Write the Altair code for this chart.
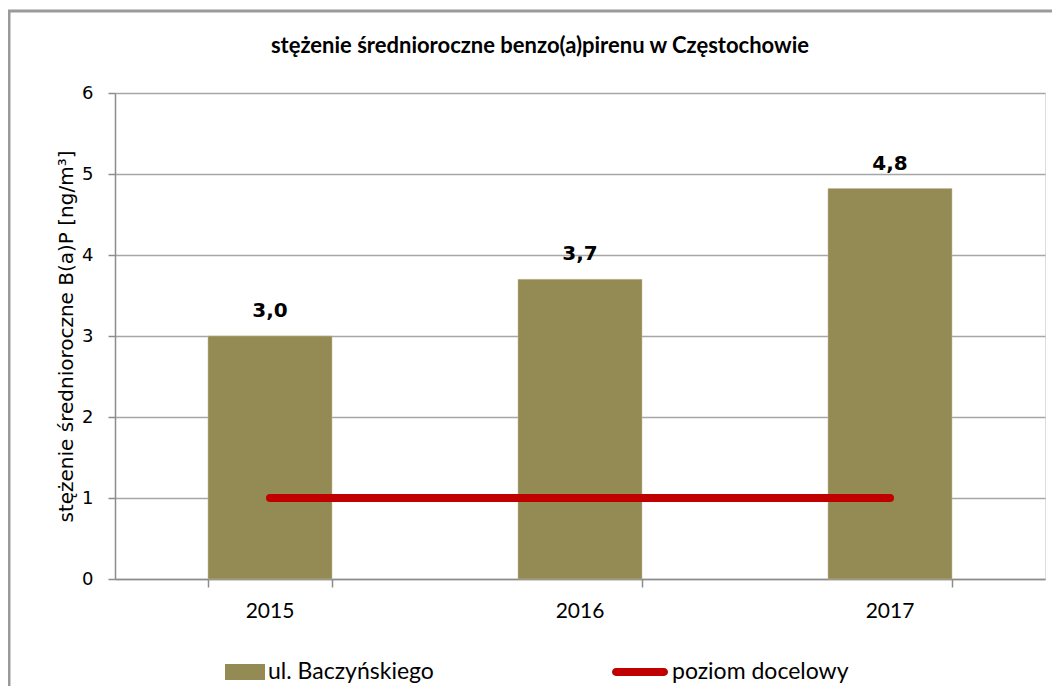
import altair as alt
import pandas as pd

# ---- data ----
years = ["2015", "2016", "2017"]
values = [3.0, 3.7, 4.82]
target = [1, 1, 1]
bar_series = "ul. Baczyńskiego"
line_series = "poziom docelowy"
y_ticks = [0, 1, 2, 3, 4, 5, 6]

df = pd.DataFrame({
    "year": years,
    "value": values,
    "target": target,
    "bar": [bar_series] * len(years),
    "line": [line_series] * len(years),
})

OLIVE = "#948A54"
RED = "#C00000"
GRID = "#A6A6A6"
AXIS = "#8C8C8C"
Y_TITLE = "stężenie średnioroczne B(a)P [ng/m³]"

x_enc = alt.X(
    "year:N", title=None, sort=years,
    scale=alt.Scale(paddingInner=0.6, paddingOuter=0.3),
    axis=alt.Axis(labelAngle=0, bandPosition=1, tickExtra=True, tickSize=8,
                  labelPadding=13, labelFont="Lato", labelFontSize=21,
                  labelColor="#000", domainColor=AXIS, tickColor=AXIS,
                  domainWidth=1.5, tickWidth=1.5, grid=False),
)

y_axis = alt.Axis(values=y_ticks, format="d", grid=True, gridColor=GRID,
                  gridWidth=1.5, domainColor=AXIS, tickColor=AXIS,
                  domainWidth=1.5, tickWidth=1.5,
                  tickSize=7, labelPadding=15, labelFont="DejaVu Sans",
                  labelFontSize=18, labelColor="#000", titleFont="DejaVu Sans",
                  titleFontSize=20, titleFontWeight="normal", titleColor="#000",
                  titlePadding=5)
y_scale = alt.Scale(domain=[0, 6], nice=False)

base = alt.Chart(df)

frame = alt.Chart(alt.Data(values=[{"f": 1}])).mark_rect(
    fill="transparent", stroke="#9A9A9A", strokeWidth=3, clip=False
).encode(x=alt.value(-106), x2=alt.value(960), y=alt.value(-82), y2=alt.value(640))

bars = base.mark_bar(stroke="#C4BD97", strokeWidth=0.5).encode(
    x=x_enc,
    y=alt.Y("value:Q", title=Y_TITLE, scale=y_scale, axis=y_axis),
    fill=alt.Fill("bar:N", scale=alt.Scale(range=[OLIVE]),
                  legend=alt.Legend(title=None, orient="none", legendX=110, legendY=559,
                                    symbolType="M-1,-0.4H1V0.4H-1Z", symbolSize=1600,
                                    symbolStrokeWidth=0, symbolOpacity=1,
                                    labelFont="Lato", labelFontSize=23, labelColor="#000",
                                    labelOffset=3, labelLimit=0, padding=0)),
)

line = base.mark_line(strokeWidth=8, strokeCap="round").encode(
    x=x_enc,
    y=alt.Y("target:Q", title=Y_TITLE, scale=y_scale, axis=y_axis),
    stroke=alt.Stroke("line:N", scale=alt.Scale(range=[RED]),
                      legend=alt.Legend(title=None, orient="none", legendX=497, legendY=551,
                                        symbolType="M-0.86,-0.14H0.86A0.14,0.14 0 0 1 0.86,0.14H-0.86A0.14,0.14 0 0 1 -0.86,-0.14Z",
                                        symbolSize=3136, symbolFillColor=RED,
                                        symbolStrokeWidth=0, symbolOpacity=1,
                                        labelFont="Lato", labelFontSize=23, labelColor="#000",
                                        labelOffset=4, labelLimit=0, padding=0)),
)

labels = base.transform_calculate(
    label="replace(format(datum.value, '.1f'), '.', ',')"
).mark_text(dy=-19, baseline="alphabetic", font="DejaVu Sans", fontSize=20,
            fontWeight="bold", color="#000").encode(
    x=x_enc,
    y=alt.Y("value:Q", title=Y_TITLE, scale=y_scale, axis=y_axis),
    text="label:N",
)

chart = alt.layer(frame, bars, line, labels).resolve_legend(
    fill="independent", stroke="independent"
).properties(
    width=930, height=486,
    autosize=alt.AutoSizeParams(type="none"),
    padding={"left": 107, "top": 85, "right": 7, "bottom": 107},
    title=alt.TitleParams("stężenie średnioroczne benzo(a)pirenu w Częstochowie",
                          font="Lato", fontSize=22, fontWeight="bold", color="#000",
                          anchor="middle", dx=-40, offset=-48),
).configure_view(stroke=None).configure(background="white")

chart.save("out.html", embed_options={"renderer": "svg", "actions": False})
